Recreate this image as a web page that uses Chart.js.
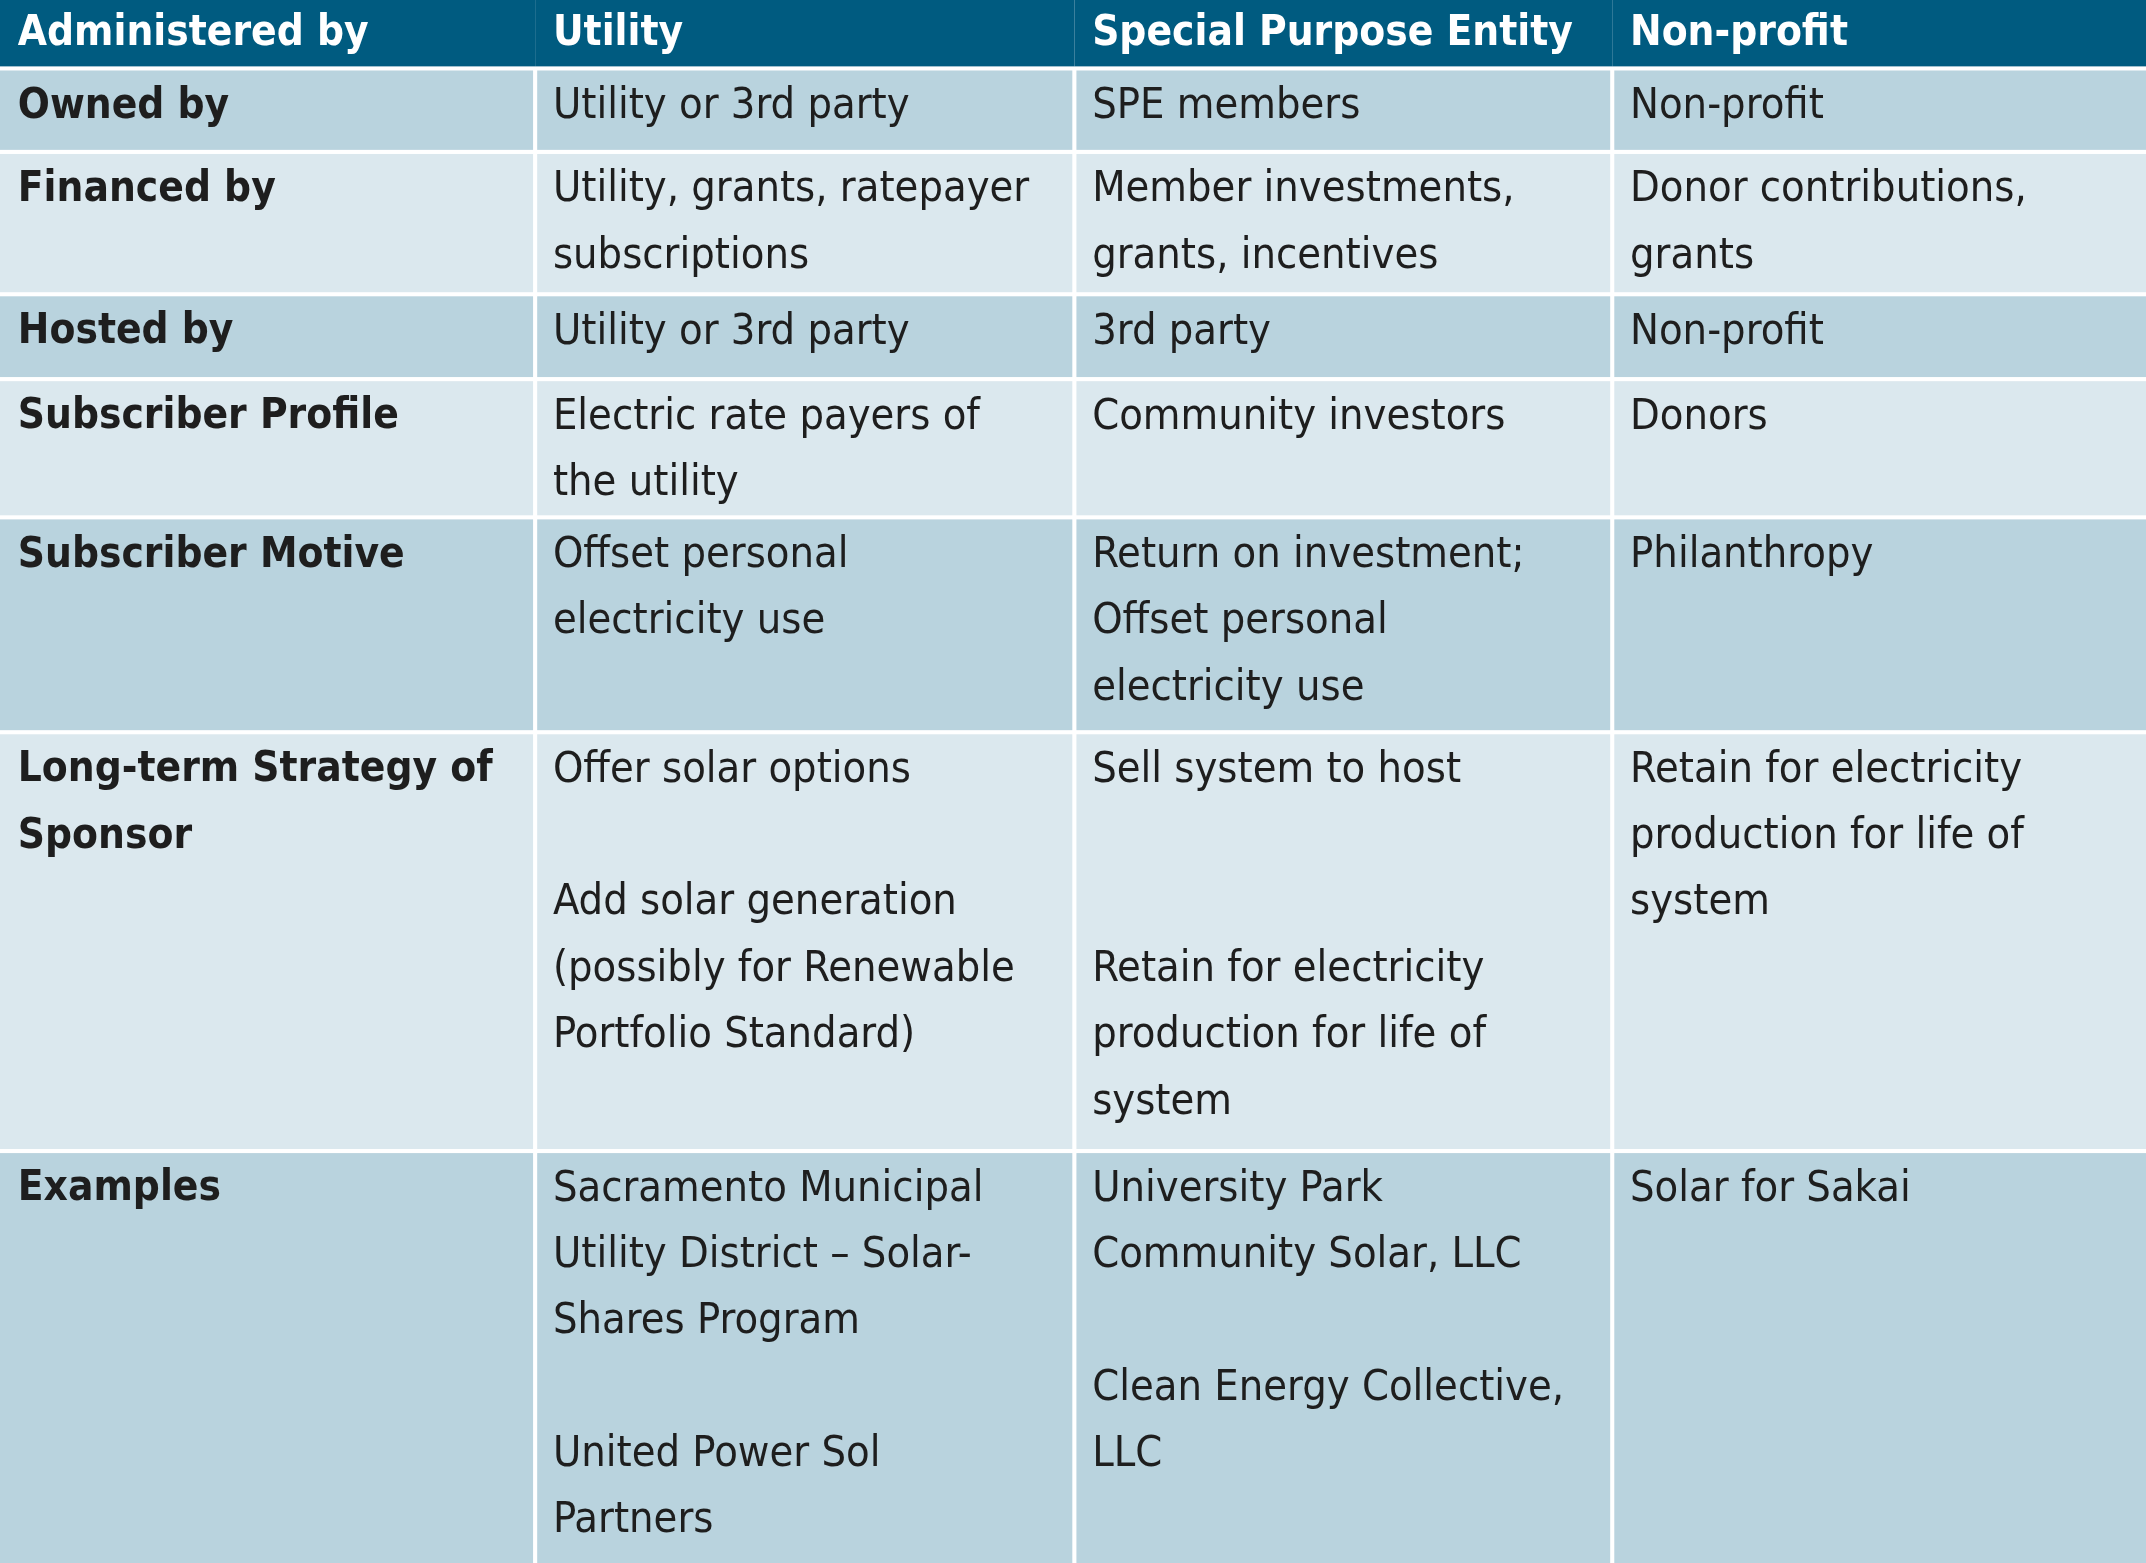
<!DOCTYPE html>
<html><head><meta charset="utf-8">
<script src="https://cdn.jsdelivr.net/npm/chart.js@4"></script>
<style>html,body{margin:0;padding:0;background:#fff}#c{display:block}</style>
</head><body>
<canvas id="c" width="2146" height="1563"></canvas>
<script>
const headers = ["Administered by", "Utility", "Special Purpose Entity", "Non-profit"];
const rowLabels = [["Owned by"], ["Financed by"], ["Hosted by"], ["Subscriber Profile"], ["Subscriber Motive"], ["Long-term Strategy of", "Sponsor"], ["Examples"]];
const utilityCol = [
  ["Utility or 3rd party"],
  ["Utility, grants, ratepayer", "subscriptions"],
  ["Utility or 3rd party"],
  ["Electric rate payers of", "the utility"],
  ["Offset personal", "electricity use"],
  ["Offer solar options", "", "Add solar generation", "(possibly for Renewable", "Portfolio Standard)"],
  ["Sacramento Municipal", "Utility District \u2013 Solar-", "Shares Program", "", "United Power Sol", "Partners"]
];
const speCol = [
  ["SPE members"],
  ["Member investments,", "grants, incentives"],
  ["3rd party"],
  ["Community investors"],
  ["Return on investment;", "Offset personal", "electricity use"],
  ["Sell system to host", "", "", "Retain for electricity", "production for life of", "system"],
  ["University Park", "Community Solar, LLC", "", "Clean Energy Collective,", "LLC"]
];
const nonprofitCol = [
  ["Non-profit"],
  ["Donor contributions,", "grants"],
  ["Non-profit"],
  ["Donors"],
  ["Philanthropy"],
  ["Retain for electricity", "production for life of", "system"],
  ["Solar for Sakai"]
];

// layout (reference pixel units)
const colEdges = [0, 391, 785, 1178, 1568];
const rowEdges = [0, 50, 111, 215, 277, 378, 535, 841, 1142];
const GAP = 3;
const LINE = 48.5;

const tablePlugin = {
  id: 'table',
  afterDraw(chart) {
    const ctx = chart.ctx, xs = chart.scales.x, ys = chart.scales.y;
    const X = v => xs.getPixelForValue(v), Y = v => ys.getPixelForValue(v);
    const k = (X(1568) - X(0)) / 1568;
    const cols = [rowLabels, utilityCol, speCol, nonprofitCol];
    ctx.save();
    ctx.fillStyle = '#fff';
    ctx.fillRect(X(0), Y(0), X(1568) - X(0), Y(1142) - Y(0));
    const nRows = rowEdges.length - 1;
    for (let r = 0; r < nRows; r++) {
      for (let c = 0; c < 4; c++) {
        const x0 = colEdges[c] + (c > 0 ? GAP / 2 : 0);
        const x1 = colEdges[c + 1] - (c < 3 ? GAP / 2 : 0);
        const y0 = rowEdges[r] + (r > 0 ? GAP / 2 : 0);
        const y1 = rowEdges[r + 1] - (r < nRows - 1 ? GAP / 2 : 0);
        let bg;
        if (r === 0) bg = '#005b80';
        else bg = (r % 2 === 1) ? '#b9d3de' : '#dbe8ee';
        ctx.fillStyle = bg;
        if (r === 0) ctx.fillRect(X(colEdges[c]), Y(y0), X(colEdges[c + 1]) - X(colEdges[c]), Y(y1) - Y(y0));
        else ctx.fillRect(X(x0), Y(y0), X(x1) - X(x0), Y(y1) - Y(y0));
        const lines = r === 0 ? [headers[c]] : cols[c][r - 1];
        const bold = r === 0 || c === 0;
        ctx.font = (bold ? 'bold ' : '') + Math.round((bold ? 31 : 31.5) * k) + 'px "Liberation Sans Narrow", "DejaVu Sans Condensed", sans-serif';
        ctx.fillStyle = r === 0 ? '#ffffff' : '#1e1e1e';
        ctx.textBaseline = 'middle';
        ctx.textAlign = 'left';
        const tx = colEdges[c] + 13;
        const ty0 = r === 0 ? 25 : rowEdges[r] + 28;
        lines.forEach((t, i) => { if (t) ctx.fillText(t, X(tx), Y(ty0 + i * LINE)); });
      }
    }
    ctx.restore();
  }
};

new Chart(document.getElementById('c'), {
  type: 'scatter',
  data: { datasets: [{ data: [] }] },
  options: {
    responsive: false, animation: false, devicePixelRatio: 1,
    layout: { padding: 0 },
    plugins: { legend: { display: false }, tooltip: { enabled: false } },
    scales: {
      x: { type: 'linear', min: 0, max: 1568, display: false },
      y: { type: 'linear', min: 0, max: 1142, reverse: true, display: false }
    }
  },
  plugins: [tablePlugin]
});
</script>
</body></html>
